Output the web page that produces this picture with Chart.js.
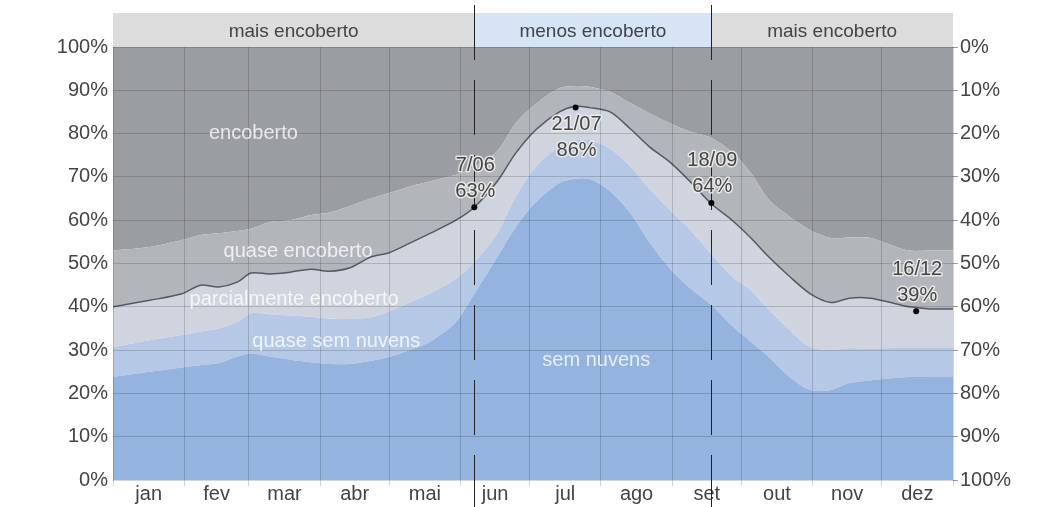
<!DOCTYPE html>
<html>
<head>
<meta charset="utf-8">
<script src="https://cdn.jsdelivr.net/npm/chart.js@4/dist/chart.umd.min.js"></script>
<style>
  html, body { margin: 0; padding: 0; background: #fff; }
  canvas { display: block; }
</style>
</head>
<body>
<canvas id="c" width="1051" height="507"></canvas>
<script>
// day of year (0 = 1 jan) for every sample
var days = [0, 16, 30, 38, 46, 54, 60, 68, 77, 86, 94, 103, 112, 120, 129, 138, 149, 157, 167, 175, 184, 194, 201, 207, 216, 225, 233, 242, 251, 260, 269, 277, 285, 294, 303, 312, 320, 329, 338, 346, 355, 365];

// cumulative tops of each band, in %
var semNuvens = [23.8, 25, 26, 26.5, 27, 28.5, 29.3, 28.5, 27.8, 27.2, 26.8, 26.8, 27.5, 28.4, 30, 32, 36.5, 43, 51.5, 58.4, 64.3, 68.6, 69.6, 69.5, 66.7, 61.5, 55, 48.8, 44.2, 40.4, 35.6, 32, 28.4, 23.8, 20.8, 20.8, 22.4, 23, 23.5, 23.8, 23.8, 23.8];
var quaseSemNuvens = [30.7, 32.3, 33.5, 34.3, 35, 36.5, 38.5, 38.3, 38, 37.7, 37.3, 37.2, 37.6, 39, 41, 43.2, 46.5, 50.3, 57, 65.4, 72.5, 77, 78.5, 78.5, 76.5, 72.3, 67.3, 62.3, 57.7, 52.2, 47, 43.9, 39.3, 34.6, 30.7, 30, 30.5, 30.3, 30.5, 30.5, 30.5, 30.5];
var parcialmente = [40, 41.5, 43, 45, 44.6, 45.7, 47.8, 47.6, 48, 48.7, 48.2, 49, 51.5, 52.5, 54.7, 57, 60, 63, 69, 75.5, 81, 85, 86.3, 86, 85, 81, 77, 73.4, 68.8, 63.8, 60, 56, 51.5, 47, 43, 41, 42, 42, 41, 40, 39.5, 39.5];
var quaseEncoberto = [53, 53.8, 55.4, 56.6, 57, 57.5, 58, 59.6, 60, 61.2, 61.8, 63.3, 65, 66.3, 67.8, 69, 70.5, 72.3, 76, 82.4, 87, 90.5, 91, 90.8, 89.6, 87, 84.7, 82.4, 80.4, 79, 75.7, 71, 64.7, 60.8, 57.7, 55.9, 56, 55.9, 54.3, 53, 53, 53];

var monthLabels = ['jan', 'fev', 'mar', 'abr', 'mai', 'jun', 'jul', 'ago', 'set', 'out', 'nov', 'dez'];
var monthStarts = [0, 31, 59, 90, 120, 151, 181, 212, 243, 273, 304, 334, 365];

var seasonLabels = ['mais encoberto', 'menos encoberto', 'mais encoberto'];
var seasonBounds = [157, 260];

var markerDays = [157, 201, 260, 349];
var markerValues = [63, 86, 64, 39];
var markerDates = ['7/06', '21/07', '18/09', '16/12'];

var FONT = '"Liberation Sans", Arial, sans-serif';
var TXT = '#444444';
var GRID = 'rgba(0,0,0,0.16)';

function pts(vals) {
    return vals.map(function (v, i) { return {x: days[i], y: v}; });
}

var monthMids = [];
for (var i = 0; i < 12; i++) monthMids.push((monthStarts[i] + monthStarts[i + 1]) / 2);

const overlayPlugin = {
    id: 'overlay',
    afterDraw: function (chart) {
        const ctx = chart.ctx;
        const ca = chart.chartArea;
        const xs = chart.scales.x;
        const ys = chart.scales.y;
        const b1 = xs.getPixelForValue(seasonBounds[0]);
        const b2 = xs.getPixelForValue(seasonBounds[1]);

        // season band on top
        const segs = [[ca.left, b1, '#dcdcdc'], [b1, b2, '#d6e4f5'], [b2, ca.right, '#dcdcdc']];
        ctx.save();
        ctx.font = '19px ' + FONT;
        ctx.textAlign = 'center';
        ctx.textBaseline = 'middle';
        segs.forEach(function (s, k) {
            ctx.fillStyle = s[2];
            ctx.fillRect(s[0], 13, s[1] - s[0], ca.top - 13);
            ctx.fillStyle = TXT;
            ctx.fillText(seasonLabels[k], (s[0] + s[1]) / 2, 32);
        });

        // band names inside the areas
        ctx.font = '20px ' + FONT;
        ctx.fillStyle = 'rgba(255,255,255,0.78)';
        [['encoberto', 61, 80], ['quase encoberto', 80.4, 52.7], ['parcialmente encoberto', 78.7, 41.6],
         ['quase sem nuvens', 97, 31.9], ['sem nuvens', 210, 27.7]].forEach(function (l) {
            ctx.fillText(l[0], xs.getPixelForValue(l[1]), ys.getPixelForValue(l[2]));
        });

        // dashed season separators
        ctx.strokeStyle = '#222';
        ctx.lineWidth = 1;
        ctx.setLineDash([55, 20]);
        [b1, b2].forEach(function (bx) {
            ctx.beginPath();
            ctx.moveTo(Math.round(bx) + 0.5, 5);
            ctx.lineTo(Math.round(bx) + 0.5, 507);
            ctx.stroke();
        });
        ctx.setLineDash([]);

        // markers
        const below = [false, true, false, false];
        markerDays.forEach(function (d, k) {
            const px = xs.getPixelForValue(d);
            const py = ys.getPixelForValue(markerValues[k]);
            ctx.fillStyle = '#000';
            ctx.beginPath();
            ctx.arc(px, py, 3, 0, Math.PI * 2);
            ctx.fill();
            const y1 = below[k] ? py + 17 : py - 42;
            const lines = [markerDates[k], markerValues[k] + '%'];
            ctx.font = '20px ' + FONT;
            ctx.lineJoin = 'round';
            lines.forEach(function (t, j) {
                const ty = y1 + j * 26;
                ctx.strokeStyle = 'rgba(235,235,235,0.9)';
                ctx.lineWidth = 3;
                ctx.strokeText(t, px + 1, ty);
                ctx.fillStyle = TXT;
                ctx.fillText(t, px + 1, ty);
            });
        });
        ctx.restore();
    }
};

new Chart(document.getElementById('c'), {
    type: 'line',
    data: {
        datasets: [
            {label: 'sem nuvens', data: pts(semNuvens), backgroundColor: '#94b3df', fill: 'origin', borderWidth: 0, pointRadius: 0, tension: 0.3},
            {label: 'quase sem nuvens', data: pts(quaseSemNuvens), backgroundColor: '#b5c9e6', fill: '-1', borderWidth: 0, pointRadius: 0, tension: 0.3},
            {label: 'parcialmente encoberto', data: pts(parcialmente), backgroundColor: '#cfd4de', fill: '-1', borderColor: '#555a60', borderWidth: 1.5, pointRadius: 0, tension: 0.3},
            {label: 'quase encoberto', data: pts(quaseEncoberto), backgroundColor: '#b2b5ba', fill: '-1', borderWidth: 0, pointRadius: 0, tension: 0.3},
            {label: 'encoberto', data: pts(quaseEncoberto), backgroundColor: '#9a9da2', fill: 'end', borderWidth: 0, pointRadius: 0, tension: 0.3}
        ]
    },
    options: {
        responsive: false,
        animation: false,
        devicePixelRatio: 1,
        layout: {padding: {top: 47, left: 0, right: 0, bottom: 0}},
        plugins: {legend: {display: false}, tooltip: {enabled: false}},
        scales: {
            x: {
                type: 'linear', min: 0, max: 365, position: 'bottom',
                afterBuildTicks: function (s) { s.ticks = monthStarts.map(function (v) { return {value: v}; }); },
                afterFit: function (s) { s.height = 0; },
                grid: {color: GRID, z: 1, drawTicks: true, tickLength: 6},
                border: {display: false},
                ticks: {display: false}
            },
            x2: {
                type: 'linear', min: 0, max: 365, position: 'bottom',
                afterBuildTicks: function (s) { s.ticks = monthMids.map(function (v) { return {value: v}; }); },
                afterFit: function (s) { s.height = 27; },
                grid: {display: false, drawTicks: false},
                border: {display: false},
                ticks: {
                    autoSkip: false, maxRotation: 0, padding: 2, color: TXT,
                    font: {family: FONT, size: 20},
                    callback: function (v, i) { return monthLabels[i]; }
                }
            },
            y: {
                min: 0, max: 100, position: 'left',
                afterFit: function (s) { s.width = 113; },
                grid: {color: GRID, z: 1, drawTicks: false},
                border: {display: false},
                ticks: {
                    stepSize: 10, padding: 5, color: TXT,
                    font: {family: FONT, size: 20},
                    callback: function (v) { return v + '%'; }
                }
            },
            y2: {
                min: 0, max: 100, position: 'right',
                afterFit: function (s) { s.width = 98; },
                grid: {drawOnChartArea: false, tickLength: 5, color: '#999'},
                border: {display: false},
                ticks: {
                    stepSize: 10, padding: 2, color: TXT,
                    font: {family: FONT, size: 20},
                    callback: function (v) { return (100 - v) + '%'; }
                }
            }
        }
    },
    plugins: [overlayPlugin]
});
</script>
</body>
</html>
